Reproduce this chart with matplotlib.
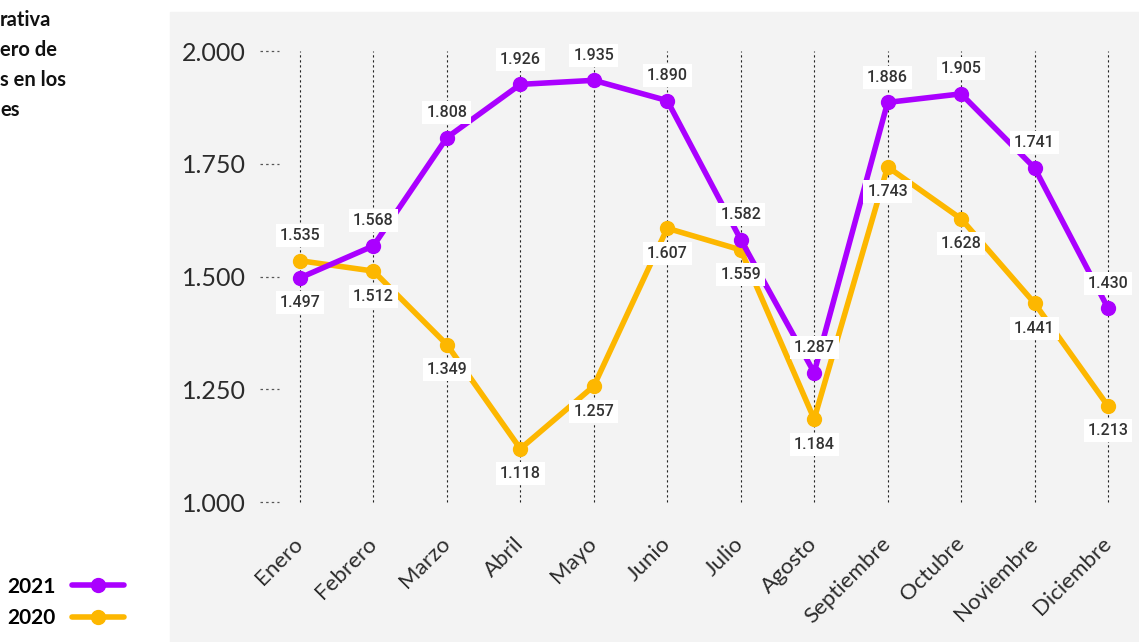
import numpy as np
import matplotlib.pyplot as plt
from matplotlib.lines import Line2D
from matplotlib.patches import Rectangle

#%% data

meses = ['Enero', 'Febrero', 'Marzo', 'Abril', 'Mayo', 'Junio', 'Julio',
         'Agosto', 'Septiembre', 'Octubre', 'Noviembre', 'Diciembre']
v2021 = [1497, 1568, 1808, 1926, 1935, 1890, 1582, 1287, 1886, 1905, 1741, 1430]
v2020 = [1535, 1512, 1349, 1118, 1257, 1607, 1559, 1184, 1743, 1628, 1441, 1213]
# label above (+1) or below (-1) the point
pos2021 = [-1, 1, 1, 1, 1, 1, 1, 1, 1, 1, 1, 1]
pos2020 = [1, -1, -1, -1, -1, -1, -1, -1, -1, -1, -1, -1]
yticks = [1000, 1250, 1500, 1750, 2000]
titulo = ['rativa', 'ero de', 's en los', 'es']

c2021 = '#aa00ff'
c2020 = '#fdb700'
txt = '#2b2b2b'

#%% figure

W, H = 1139, 642
fig = plt.figure(figsize=(W / 100, H / 100), dpi=100)
fig.patches.append(Rectangle((170 / W, 0), 1 - 170 / W, (H - 12) / H,
                             transform=fig.transFigure, color='#f3f3f3', zorder=-5))

ax = fig.add_axes([260 / W, 1 - 510 / H, (1125 - 260) / W, 490 / H])
ax.set_zorder(2)
ax.patch.set_visible(False)
for s in ax.spines.values():
    s.set_visible(False)

x = np.arange(len(meses))
px = 73.45
ax.set_xlim((260 - 300) / px, (1125 - 300) / px)
ax.set_ylim(1000 - 8 / 451 * 1000, 1000 + (502 - 20) / 451 * 1000)

ax.vlines(x, 1000, 2000, colors='#222222', linestyles=(0, (2, 2.5)), linewidth=0.8, zorder=1)
ax.hlines(yticks, (260 - 300) / px, (279 - 300) / px, colors='#555555',
          linestyles=(0, (2, 2.5)), linewidth=0.9, zorder=1)

ax.plot(x, v2020, color=c2020, lw=4, marker='o', ms=10, zorder=3, solid_capstyle='round')
ax.plot(x, v2021, color=c2021, lw=4, marker='o', ms=10, zorder=4, solid_capstyle='round')

def etiquetas(vals, pos):
    for xi, v, p in zip(x, vals, pos):
        ax.annotate(f'{v / 1000:.3f}', (xi, v), xytext=(0, 18 * p), textcoords='offset points',
                    ha='center', va='center', fontsize=11.5, color='#333333', family='Roboto',
                    fontweight='medium', zorder=6,
                    bbox=dict(boxstyle='square,pad=0.25', fc='white', ec='none'))

etiquetas(v2021, pos2021)
etiquetas(v2020, pos2020)

ax.set_yticks(yticks)
ax.set_yticklabels([f'{t / 1000:.3f}' for t in yticks], fontsize=18, color=txt,
                   family='Lato')
ax.tick_params(axis='y', length=0, pad=10)
ax.set_xticks(x)
ax.set_xticklabels(meses, rotation=45, ha='right', va='center', rotation_mode='anchor',
                   fontsize=16, color=txt, family='Lato')
ax.tick_params(axis='x', length=0, pad=22)

#%% title (cut off) and legend

for i, t in enumerate(titulo):
    fig.text(0, 1 - (20 + 30 * i) / H, t, ha='left', va='center', fontsize=14.5,
             fontweight='bold', family='Lato', color='#111111')

h1 = Line2D([], [], color=c2021, lw=4, marker='o', ms=10, solid_capstyle='round')
h2 = Line2D([], [], color=c2020, lw=4, marker='o', ms=10, solid_capstyle='round')
fig.legend([h1, h2], ['2021', '2020'], markerfirst=False, frameon=False,
           loc='upper left', bbox_to_anchor=(-0.01, 1 - 558 / H), handlelength=2.5,
           handletextpad=0.8, labelspacing=0.55,
           prop=dict(family='Lato', weight='bold', size=15))

plt.savefig('out.png', dpi=100)
